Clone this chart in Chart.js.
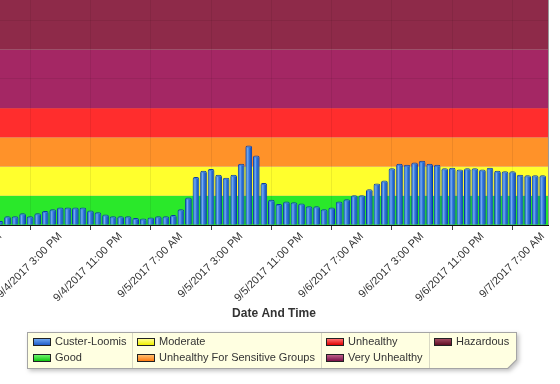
<!DOCTYPE html>
<html>
<head>
<meta charset="utf-8">
<title>Custer-Loomis AQI</title>
<script src="https://cdn.jsdelivr.net/npm/chart.js@4.4.1/dist/chart.umd.min.js"></script>
<style>
  html, body { margin: 0; padding: 0; background: #fff; }
  #wrap { position: relative; width: 560px; height: 384px; font-family: "Liberation Sans", Arial, sans-serif; }
  #aqiChart { position: absolute; left: 0; top: 0; }
  #legendShadow { position: absolute; left: 27px; top: 332px; width: 490px; height: 37px; filter: drop-shadow(2px 2px 2px rgba(0,0,0,0.25)); }
  .legendBox { position: absolute; left: 0; top: 0; right: 0; bottom: 0; background: #a5a5a5;
    clip-path: polygon(0 0, 100% 0, 100% calc(100% - 9px), calc(100% - 9px) 100%, 0 100%); }
  .legendInner { position: absolute; left: 1px; top: 1px; right: 1px; bottom: 1px; background: #ffffe1;
    clip-path: polygon(0 0, 100% 0, 100% calc(100% - 8.6px), calc(100% - 8.6px) 100%, 0 100%); }
  .sep { position: absolute; top: 0; bottom: 0; width: 1px; background: #d9d9c4; }
  .item { position: absolute; font-size: 11px; color: #333; white-space: nowrap; line-height: 13px; }
  .sw { display: inline-block; width: 16px; height: 6px; border: 1px solid #222; vertical-align: -1px; margin-right: 4px; }
</style>
</head>
<body>
<div id="wrap">
  <canvas id="aqiChart" width="560" height="384"></canvas>
  <div id="legendShadow">
    <div class="legendBox"><div class="legendInner" id="legendInner"></div></div>
  </div>
</div>
<script>
// hourly AQI, starting 9/4/2017 7:00 AM
const seriesName = "Custer-Loomis";
const aqi = [
  7, 15, 15, 20, 15, 20, 24, 27, 30, 30, 30, 30, 25, 22, 18, 15, 15, 15, 12,
  11, 13, 15, 15, 17, 27, 47, 82, 93, 96, 86, 81, 86, 105, 136, 119, 72, 43, 36,
  40, 39, 37, 32, 32, 27, 30, 40, 44, 51, 51, 61, 71, 76, 97, 105, 103, 107,
  110, 105, 103, 97, 98, 95, 97, 97, 95, 98, 93, 92, 92, 86, 85, 85, 85
];
const tickHours = [0, 8, 16, 24, 32, 40, 48, 56, 64, 72];
const tickLabels = [
  "9/4/2017 7:00 AM", "9/4/2017 3:00 PM", "9/4/2017 11:00 PM",
  "9/5/2017 7:00 AM", "9/5/2017 3:00 PM", "9/5/2017 11:00 PM",
  "9/6/2017 7:00 AM", "9/6/2017 3:00 PM", "9/6/2017 11:00 PM",
  "9/7/2017 7:00 AM"
];
const bandNames = ["Good", "Moderate", "Unhealthy For Sensitive Groups", "Unhealthy", "Very Unhealthy", "Hazardous"];
const bandLow = [0, 50, 100, 150, 200, 300];
const bandHigh = [50, 100, 150, 200, 300, 500];

const bandColors = ["#2ae82a", "#ffff2d", "#ff9229", "#ff2d2d", "#a42764", "#8e2a49"];
const swatchColors = [
  ["#6fa6f0", "#1f5cc8"],
  ["#6ff56f", "#10c810"],
  ["#ffff90", "#f0f000"],
  ["#ffc070", "#ff7a10"],
  ["#ff7070", "#e00000"],
  ["#c0608a", "#7a1048"],
  ["#a04a60", "#5e0e24"]
];
const fontFamily = "'Liberation Sans', Arial, sans-serif";

// legend (html)
const legendInner = document.getElementById("legendInner");
const colLeft = [5, 109, 298, 406];
[104, 293, 401].forEach(x => {
  const s = document.createElement("div");
  s.className = "sep";
  s.style.left = x + "px";
  legendInner.appendChild(s);
});
[seriesName].concat(bandNames).forEach((name, i) => {
  const item = document.createElement("div");
  item.className = "item";
  item.style.left = colLeft[Math.floor(i / 2)] + "px";
  item.style.top = (i % 2 === 0 ? 2 : 18) + "px";
  const sw = document.createElement("span");
  sw.className = "sw";
  sw.style.background = `linear-gradient(${swatchColors[i][0]}, ${swatchColors[i][1]})`;
  item.appendChild(sw);
  item.appendChild(document.createTextNode(name));
  legendInner.appendChild(item);
});

const bandPlugin = {
  id: "aqiBands",
  beforeDraw(chart) {
    const { ctx, chartArea: a, scales: { y } } = chart;
    ctx.save();
    ctx.beginPath();
    ctx.rect(a.left, a.top, a.right - a.left, a.bottom - a.top);
    ctx.clip();
    bandNames.forEach((name, i) => {
      const top = y.getPixelForValue(bandHigh[i]);
      const bottom = y.getPixelForValue(bandLow[i]);
      ctx.fillStyle = bandColors[i];
      ctx.fillRect(a.left, top, a.right - a.left, bottom - top);
    });
    ctx.restore();
  },
  afterDatasetsDraw(chart) {
    const { ctx, chartArea: a } = chart;
    ctx.save();
    ctx.beginPath();
    ctx.rect(a.left, a.top, a.right - a.left, a.bottom - a.top);
    ctx.clip();
    // shaded bar bodies
    chart.getDatasetMeta(0).data.forEach(bar => {
      const { x, y, base, width } = bar.getProps(["x", "y", "base", "width"], true);
      const l = x - width / 2 + 1, r = x + width / 2 - 1;
      const g = ctx.createLinearGradient(l, 0, r, 0);
      g.addColorStop(0, "#2f70d8");
      g.addColorStop(0.28, "#78acef");
      g.addColorStop(0.52, "#3b7fe0");
      g.addColorStop(1, "#1650bc");
      ctx.fillStyle = g;
      ctx.fillRect(l, y + 2, r - l, base - y - 2);
    });
    ctx.restore();
    ctx.save();
    ctx.lineWidth = 1;
    ctx.strokeStyle = "#9a9a9a";
    ctx.beginPath();
    ctx.moveTo(a.right + 0.5, a.top);
    ctx.lineTo(a.right + 0.5, a.bottom);
    ctx.stroke();
    ctx.strokeStyle = "#111";
    ctx.beginPath();
    ctx.moveTo(a.left, a.bottom + 0.5);
    ctx.lineTo(a.right + 1, a.bottom + 0.5);
    ctx.stroke();
    ctx.restore();
  }
};

new Chart(document.getElementById("aqiChart"), {
  type: "bar",
  data: {
    datasets: [{
      label: seriesName,
      data: aqi.map((v, i) => ({ x: i, y: v })),
      backgroundColor: "#3a7cdc",
      borderColor: "#0a3ca6",
      borderWidth: 1,
      borderRadius: { topLeft: 2, topRight: 2 },
      borderSkipped: "bottom",
      barPercentage: 0.89,
      categoryPercentage: 1
    }]
  },
  options: {
    responsive: false,
    devicePixelRatio: 1,
    animation: false,
    layout: { padding: { left: 0, top: 0, right: 12, bottom: 59 } },
    scales: {
      x: {
        type: "linear",
        min: 0,
        max: 72.7,
        offset: false,
        afterBuildTicks: s => { s.ticks = tickHours.map(v => ({ value: v })); },
        afterFit: s => { s.height = 100; s.paddingLeft = 0; s.paddingRight = 0; },
        grid: { color: "rgba(0,0,0,0.07)", tickColor: "#444", tickLength: 5 },
        border: { color: "#111" },
        ticks: {
          autoSkip: false,
          minRotation: 45,
          maxRotation: 45,
          padding: 0,
          color: "#333",
          font: { size: 11, family: fontFamily },
          callback: v => tickLabels[tickHours.indexOf(v)]
        },
        title: {
          display: true,
          text: "Date And Time",
          color: "#333",
          font: { size: 12, weight: "bold", family: fontFamily },
          padding: { top: 4, bottom: 4 }
        }
      },
      y: {
        min: 0,
        max: 385,
        afterFit: s => { s.width = 0; },
        ticks: { display: false, stepSize: 50, includeBounds: false },
        grid: { color: "rgba(0,0,0,0.07)", drawTicks: false },
        border: { display: false }
      }
    },
    plugins: {
      legend: { display: false },
      tooltip: { enabled: true }
    }
  },
  plugins: [bandPlugin]
});
</script>
</body>
</html>
